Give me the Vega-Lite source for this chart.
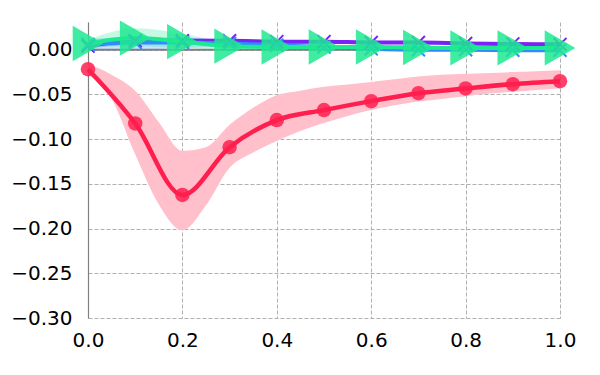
{
  "$schema": "https://vega.github.io/schema/vega-lite/v6.json",
  "width": 472,
  "height": 296,
  "autosize": {"type": "none"},
  "padding": {"left": 88, "top": 22, "right": 40, "bottom": 57},
  "config": {
    "view": {"stroke": null},
    "axis": {"labelFont": "DejaVu Sans", "labelFontSize": 20, "labelColor": "#000000", "title": null, "labelFlush": false,
             "gridColor": "#b0b0b0", "gridDash": [4, 2], "gridWidth": 1, "ticks": false, "tickSize": 0}
  },
  "datasets": {
    "red": [
      {"x": 0.0, "y": -0.0218}, {"x": 0.1, "y": -0.0824}, {"x": 0.2, "y": -0.1624}, {"x": 0.3, "y": -0.109},
      {"x": 0.4, "y": -0.0787}, {"x": 0.5, "y": -0.0675}, {"x": 0.6, "y": -0.0575}, {"x": 0.7, "y": -0.0486},
      {"x": 0.8, "y": -0.0433}, {"x": 0.9, "y": -0.0385}, {"x": 1.0, "y": -0.0352}
    ],
    "redband": [
      {"x": 0.0, "lo": -0.028, "hi": -0.016}, {"x": 0.05, "lo": -0.055, "hi": -0.028},
      {"x": 0.1, "lo": -0.117, "hi": -0.046}, {"x": 0.15, "lo": -0.173, "hi": -0.081},
      {"x": 0.2, "lo": -0.202, "hi": -0.113}, {"x": 0.25, "lo": -0.174, "hi": -0.109},
      {"x": 0.3, "lo": -0.132, "hi": -0.084}, {"x": 0.35, "lo": -0.115, "hi": -0.065},
      {"x": 0.4, "lo": -0.102, "hi": -0.051}, {"x": 0.45, "lo": -0.091, "hi": -0.046},
      {"x": 0.5, "lo": -0.082, "hi": -0.0415}, {"x": 0.55, "lo": -0.074, "hi": -0.039},
      {"x": 0.6, "lo": -0.0675, "hi": -0.036}, {"x": 0.65, "lo": -0.062, "hi": -0.033},
      {"x": 0.7, "lo": -0.058, "hi": -0.030}, {"x": 0.75, "lo": -0.055, "hi": -0.028},
      {"x": 0.8, "lo": -0.052, "hi": -0.027}, {"x": 0.85, "lo": -0.049, "hi": -0.026},
      {"x": 0.9, "lo": -0.047, "hi": -0.025}, {"x": 0.95, "lo": -0.045, "hi": -0.024},
      {"x": 1.0, "lo": -0.043, "hi": -0.023}
    ],
    "near": [
      {"s": "purple", "x": 0.0, "y": 0.004, "lo": 0.001, "hi": 0.008},
      {"s": "purple", "x": 0.1, "y": 0.010, "lo": 0.006, "hi": 0.014},
      {"s": "purple", "x": 0.2, "y": 0.010, "lo": 0.007, "hi": 0.013},
      {"s": "purple", "x": 0.3, "y": 0.010, "lo": 0.007, "hi": 0.012},
      {"s": "purple", "x": 0.4, "y": 0.009, "lo": 0.007, "hi": 0.011},
      {"s": "purple", "x": 0.5, "y": 0.009, "lo": 0.007, "hi": 0.011},
      {"s": "purple", "x": 0.6, "y": 0.008, "lo": 0.006, "hi": 0.010},
      {"s": "purple", "x": 0.7, "y": 0.008, "lo": 0.006, "hi": 0.010},
      {"s": "purple", "x": 0.8, "y": 0.007, "lo": 0.005, "hi": 0.009},
      {"s": "purple", "x": 0.9, "y": 0.0065, "lo": 0.005, "hi": 0.008},
      {"s": "purple", "x": 1.0, "y": 0.006, "lo": 0.0045, "hi": 0.0075},
      {"s": "blue", "x": 0.0, "y": 0.006, "lo": 0.000, "hi": 0.012},
      {"s": "blue", "x": 0.1, "y": 0.008, "lo": 0.000, "hi": 0.014},
      {"s": "blue", "x": 0.2, "y": 0.008, "lo": 0.002, "hi": 0.013},
      {"s": "blue", "x": 0.3, "y": 0.007, "lo": 0.003, "hi": 0.011},
      {"s": "blue", "x": 0.4, "y": 0.005, "lo": 0.002, "hi": 0.008},
      {"s": "blue", "x": 0.5, "y": 0.003, "lo": 0.000, "hi": 0.006},
      {"s": "blue", "x": 0.6, "y": 0.001, "lo": -0.001, "hi": 0.004},
      {"s": "blue", "x": 0.7, "y": 0.000, "lo": -0.002, "hi": 0.003},
      {"s": "blue", "x": 0.8, "y": 0.000, "lo": -0.002, "hi": 0.002},
      {"s": "blue", "x": 0.9, "y": -0.0005, "lo": -0.002, "hi": 0.0015},
      {"s": "blue", "x": 1.0, "y": -0.0005, "lo": -0.002, "hi": 0.0015},
      {"s": "green", "x": 0.0, "y": 0.007, "lo": 0.003, "hi": 0.011},
      {"s": "green", "x": 0.1, "y": 0.013, "lo": 0.004, "hi": 0.024},
      {"s": "green", "x": 0.2, "y": 0.009, "lo": 0.002, "hi": 0.018},
      {"s": "green", "x": 0.3, "y": 0.004, "lo": 0.000, "hi": 0.008},
      {"s": "green", "x": 0.4, "y": 0.003, "lo": 0.001, "hi": 0.006},
      {"s": "green", "x": 0.5, "y": 0.003, "lo": 0.001, "hi": 0.005},
      {"s": "green", "x": 0.6, "y": 0.003, "lo": 0.0015, "hi": 0.0045},
      {"s": "green", "x": 0.7, "y": 0.0025, "lo": 0.001, "hi": 0.004},
      {"s": "green", "x": 0.8, "y": 0.002, "lo": 0.001, "hi": 0.0035},
      {"s": "green", "x": 0.9, "y": 0.002, "lo": 0.001, "hi": 0.0035},
      {"s": "green", "x": 1.0, "y": 0.002, "lo": 0.001, "hi": 0.0035}
    ],
    "zero": [{"x": 0.0, "y": 0.0}, {"x": 1.0, "y": 0.0}]
  },
  "layer": [
    {
      "data": {"name": "zero"},
      "mark": {"type": "line", "color": "#808080", "strokeWidth": 2},
      "encoding": {
        "x": {"field": "x", "type": "quantitative", "scale": {"domain": [0, 1], "nice": false, "zero": false},
              "axis": {"values": [0, 0.2, 0.4, 0.6, 0.8, 1.0], "format": ".1f", "domain": false, "labelPadding": 12}},
        "y": {"field": "y", "type": "quantitative", "scale": {"domain": [-0.3, 0.031], "nice": false, "zero": false},
              "axis": {"values": [-0.3, -0.25, -0.2, -0.15, -0.1, -0.05, 0], "format": ".2f", "domain": true,
                       "domainColor": "#808080", "domainWidth": 1.2, "labelPadding": 16}}
      }
    },
    {
      "data": {"name": "redband"},
      "mark": {"type": "area", "color": "#ffc0cb", "opacity": 1, "interpolate": "monotone"},
      "encoding": {
        "x": {"field": "x", "type": "quantitative"},
        "y": {"field": "lo", "type": "quantitative"},
        "y2": {"field": "hi"}
      }
    },
    {
      "data": {"name": "near"},
      "mark": {"type": "area", "opacity": 0.25, "interpolate": "monotone"},
      "encoding": {
        "x": {"field": "x", "type": "quantitative"},
        "y": {"field": "lo", "type": "quantitative"},
        "y2": {"field": "hi"},
        "color": {"field": "s", "type": "nominal", "legend": null,
                  "scale": {"domain": ["purple", "blue", "green"], "range": ["#7b22f5", "#2f8cff", "#1de991"]}}
      }
    },
    {
      "data": {"name": "red"},
      "mark": {"type": "line", "color": "#ff1f4f", "strokeWidth": 4.5, "interpolate": "monotone"},
      "encoding": {
        "x": {"field": "x", "type": "quantitative"},
        "y": {"field": "y", "type": "quantitative"}
      }
    },
    {
      "data": {"name": "red"},
      "mark": {"type": "point", "shape": "circle", "filled": true, "color": "#ff1f4f", "opacity": 0.85, "size": 210},
      "encoding": {
        "x": {"field": "x", "type": "quantitative"},
        "y": {"field": "y", "type": "quantitative"}
      }
    },
    {
      "data": {"name": "near"},
      "mark": {"type": "line", "strokeWidth": 4, "interpolate": "monotone"},
      "encoding": {
        "x": {"field": "x", "type": "quantitative"},
        "y": {"field": "y", "type": "quantitative"},
        "color": {"field": "s", "type": "nominal", "legend": null}
      }
    },
    {
      "data": {"name": "near"},
      "transform": [{"filter": "datum.s != 'green'"}],
      "mark": {"type": "point", "shape": "M-1,-1L1,1M-1,1L1,-1", "filled": false, "strokeWidth": 2, "size": 170, "opacity": 1},
      "encoding": {
        "x": {"field": "x", "type": "quantitative"},
        "y": {"field": "y", "type": "quantitative"},
        "color": {"field": "s", "type": "nominal", "legend": null}
      }
    },
    {
      "data": {"name": "near"},
      "transform": [{"filter": "datum.s == 'green'"}],
      "mark": {"type": "point", "shape": "triangle-right", "filled": true, "size": 1250, "color": "#1de991", "opacity": 0.85},
      "encoding": {
        "x": {"field": "x", "type": "quantitative"},
        "y": {"field": "y", "type": "quantitative"}
      }
    }
  ]
}
